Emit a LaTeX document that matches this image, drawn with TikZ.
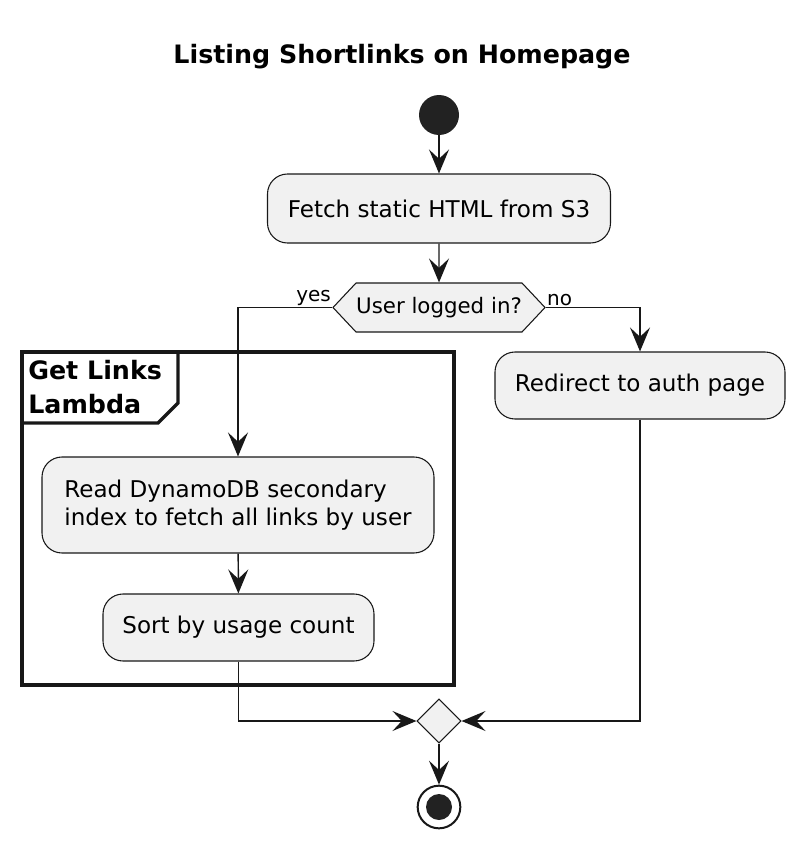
\documentclass[tikz,border=0pt]{standalone}
\usepackage{fontspec}
\setmainfont{DejaVu Sans}
\usetikzlibrary{arrows.meta,shapes.geometric,shapes.symbols}
\definecolor{actfill}{HTML}{F1F1F1}
\definecolor{linegray}{HTML}{181818}
\definecolor{dotfill}{HTML}{222222}

\begin{document}
\begin{tikzpicture}[x=0.75pt,y=-0.75pt,
  act/.style={rectangle,rounded corners=15pt,draw=linegray,fill=actfill,line width=0.8pt,inner sep=0pt,font=\fontsize{17.3}{21}\selectfont},
  flow/.style={draw=linegray,line width=1.1pt,-{Stealth[length=18pt,width=15pt,inset=7pt]}},
  lbl/.style={font=\fontsize{15}{17}\selectfont,inner sep=0.5pt}]
\useasboundingbox (0,0) rectangle (805,849);

\path (402,57) node[font=\bfseries\fontsize{19}{23}\selectfont] (title) {Listing Shortlinks on Homepage};

\path (439,115) node[circle,fill=dotfill,minimum size=30pt,inner sep=0pt] (start) {};
\path (439,208.5) node[act,minimum width=257.25pt,minimum height=51.75pt] (fetch) {Fetch static HTML from S3};
\draw[flow] (start) -- (fetch);

\path (439,307.5) node[signal,signal to=west and east,signal pointer angle=93.6,
  draw=linegray,fill=actfill,line width=0.8pt,inner sep=0pt,minimum width=159pt,minimum height=36.75pt,
  font=\fontsize{16}{19}\selectfont] (check) {User logged in?};
\draw[flow] (fetch) -- (check);

% group frame
\draw[linegray,line width=2.5pt] (22,352) rectangle (454,685);
\draw[linegray,line width=2.5pt] (22,423) -- (158,423) -- (178,403) -- (178,352);
\path (28,413) node[anchor=base west,align=left,inner sep=0pt,font=\bfseries\fontsize{19}{25.5}\selectfont] (grp) {Get Links\\Lambda};

\path (238,505) node[act,align=left,minimum width=294pt,minimum height=72pt] (read) {Read DynamoDB secondary\\index to fetch all links by user};
\draw[flow] (check.west) node[lbl,anchor=south east] (yes) {yes} -| (read.north);

\path (238.5,627.5) node[act,minimum width=203.25pt,minimum height=50.25pt] (sort) {Sort by usage count};
\draw[flow] (read) -- (sort);

\path (640,385.5) node[act,minimum width=217.5pt,minimum height=50.25pt] (redir) {Redirect to auth page};
\draw[flow] (check.east) node[lbl,anchor=south west] (no) {no} -| (redir.north);

\path (439,721) node[diamond,aspect=1,draw=linegray,fill=actfill,line width=0.8pt,inner sep=0pt,minimum width=33pt,minimum height=33pt] (merge) {};
\draw[flow] (sort.south) |- (merge.west);
\draw[flow] (redir.south) |- (merge.east);

\path (439,807) node[circle,draw=linegray,line width=1.5pt,fill=white,minimum size=32pt,inner sep=0pt] (stop) {};
\fill[dotfill] (stop.center) circle[radius=9.75pt];
\draw[flow] (merge) -- (stop);
\end{tikzpicture}
\end{document}
